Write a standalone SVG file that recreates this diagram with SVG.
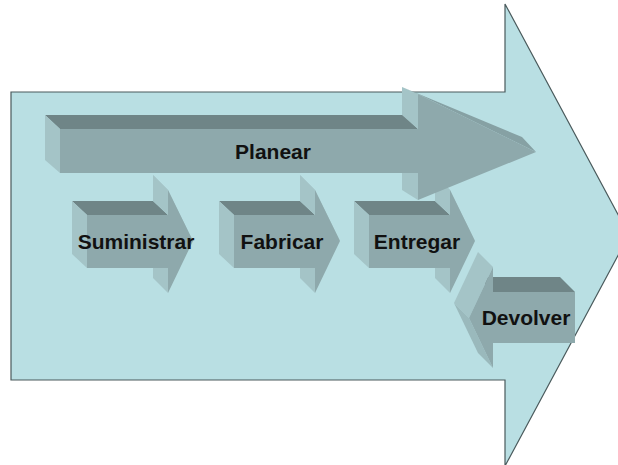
<svg xmlns="http://www.w3.org/2000/svg" width="618" height="465" viewBox="0 0 618 465">
  <style>
    .big { fill: #b9dfe3; stroke: #4a5a5c; stroke-width: 1.2; }
    .front { fill: #8ea9ac; }
    .top { fill: #6f8587; }
    .side { fill: #a4c4c7; }
    .bevel { fill: #a4c4c7; }
    .bevel-dark { fill: #86a1a4; }
    .bevel-low { fill: #9ab9bc; }
    .label { font-family: "Liberation Sans", Arial, sans-serif; font-weight: bold; font-size: 21px; fill: #111; text-anchor: middle; }
  </style>

  <rect width="618" height="465" fill="#ffffff"/>

  <!-- Large background process arrow -->
  <g id="cadena">
    <polygon class="big" points="11,92 505,92 505,4 629,235 505,466 505,380 11,380"/>
  </g>

  <!-- Suministrar -->
  <g id="suministrar">
    <polygon class="top" points="72,201 153,201 168,215 87,215"/>
    <polygon class="side" points="72,201 87,215 87,268 72,254"/>
    <polygon class="side" points="153,175 168,190 168,215 153,201"/>
    <polygon class="bevel" points="153,175 178,226 193,241 168,190"/>
    <polygon class="side" points="153,254 168,268 168,293 153,278"/>
    <polygon class="front" points="87,215 168,215 168,190 193,241 168,293 168,268 87,268"/>
    <text class="label" x="136" y="249">Suministrar</text>
  </g>

  <!-- Fabricar -->
  <g id="fabricar" transform="translate(147,0)">
    <polygon class="top" points="72,201 153,201 168,215 87,215"/>
    <polygon class="side" points="72,201 87,215 87,268 72,254"/>
    <polygon class="side" points="153,175 168,190 168,215 153,201"/>
    <polygon class="bevel" points="153,175 178,226 193,241 168,190"/>
    <polygon class="side" points="153,254 168,268 168,293 153,278"/>
    <polygon class="front" points="87,215 168,215 168,190 193,241 168,293 168,268 87,268"/>
    <text class="label" x="135" y="249">Fabricar</text>
  </g>

  <!-- Entregar -->
  <g id="entregar" transform="translate(282,0)">
    <polygon class="top" points="72,201 153,201 168,215 87,215"/>
    <polygon class="side" points="72,201 87,215 87,268 72,254"/>
    <polygon class="side" points="153,175 168,190 168,215 153,201"/>
    <polygon class="bevel" points="153,175 178,226 193,241 168,190"/>
    <polygon class="side" points="153,254 168,268 168,293 153,278"/>
    <polygon class="front" points="87,215 168,215 168,190 193,241 168,293 168,268 87,268"/>
    <text class="label" x="135" y="249">Entregar</text>
  </g>

  <!-- Planear (drawn over the lower row) -->
  <g id="planear">
    <polygon class="top" points="45,115 403,115 418,129 60,129"/>
    <polygon class="side" points="45,115 60,129 60,173 45,160"/>
    <polygon class="side" points="402,87 418,94 418,129 402,115"/>
    <polygon class="side" points="402,160 418,173 418,200 402,190"/>
    <polygon class="bevel-dark" points="402,87 522,137 536,152 418,94"/>
    <polygon class="front" points="60,129 418,129 418,94 536,152 418,200 418,173 60,173"/>
    <text class="label" x="273" y="159">Planear</text>
  </g>

  <!-- Devolver (points back, to the left) -->
  <g id="devolver">
    <polygon class="top" points="478,277 560,277 575,292 493,292"/>
    <polygon class="bevel" points="478,252 493,267 469,318 454,303"/>
    <polygon class="bevel-low" points="454,303 469,318 493,368 478,353"/>
    <polygon class="front" points="575,292 575,343 493,343 493,368 469,318 493,267 493,292"/>
    <text class="label" x="526" y="325">Devolver</text>
  </g>
</svg>
